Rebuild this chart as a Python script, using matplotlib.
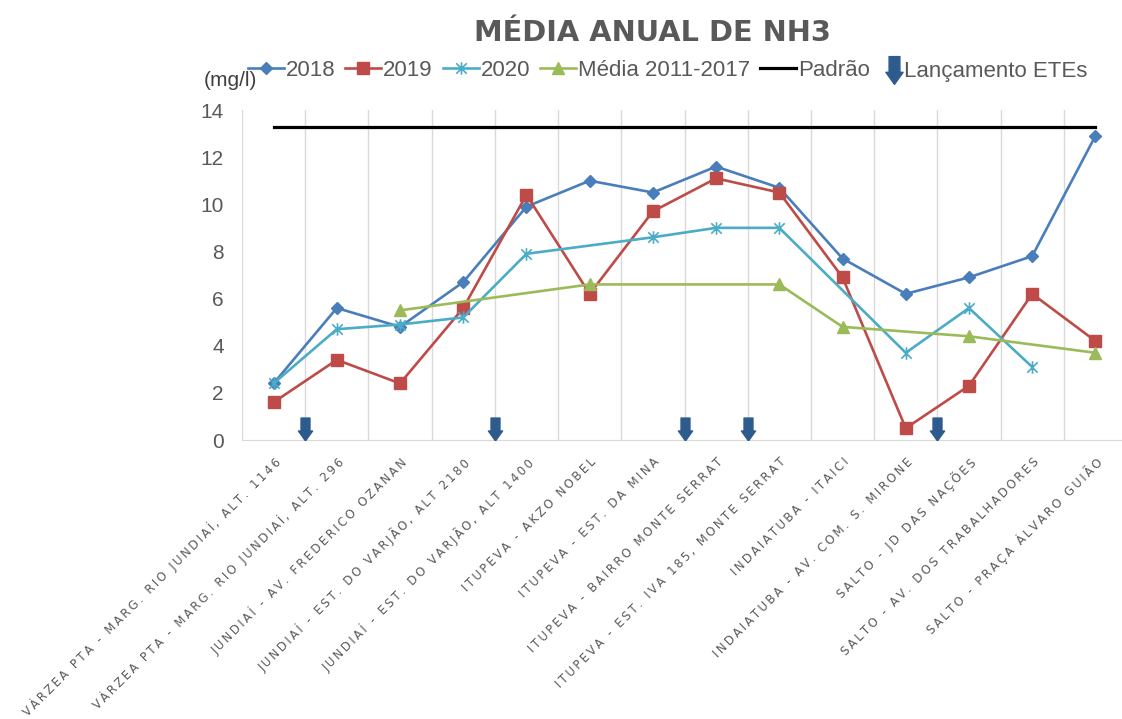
import numpy as np
import matplotlib

matplotlib.use("Agg")
import matplotlib.pyplot as plt
from matplotlib.lines import Line2D
from matplotlib.path import Path

nan = np.nan

STATIONS = [
    "VÁRZEA PTA - MARG. RIO JUNDIAÍ, ALT. 1146",
    "VÁRZEA PTA - MARG. RIO JUNDIAÍ, ALT. 296",
    "JUNDIAÍ - AV. FREDERICO OZANAN",
    "JUNDIAÍ - EST. DO VARJÃO, ALT 2180",
    "JUNDIAÍ - EST. DO VARJÃO, ALT 1400",
    "ITUPEVA - AKZO NOBEL",
    "ITUPEVA - EST. DA MINA",
    "ITUPEVA - BAIRRO MONTE SERRAT",
    "ITUPEVA - EST. IVA 185, MONTE SERRAT",
    "INDAIATUBA - ITAICI",
    "INDAIATUBA - AV. COM. S. MIRONE",
    "SALTO - JD DAS NAÇÕES",
    "SALTO - AV. DOS TRABALHADORES",
    "SALTO - PRAÇA ÁLVARO GUIÃO",
]

NH3_2018 = [2.4, 5.6, 4.8, 6.7, 9.9, 11.0, 10.5, 11.6, 10.7, 7.7, 6.2, 6.9, 7.8, 12.9]
NH3_2019 = [1.6, 3.4, 2.4, 5.6, 10.4, 6.2, 9.7, 11.1, 10.5, 6.9, 0.5, 2.3, 6.2, 4.2]
NH3_2020 = [2.4, 4.7, 4.9, 5.2, 7.9, nan, 8.6, 9.0, 9.0, nan, 3.7, 5.6, 3.1, nan]
MEDIA_2011_2017 = [nan, nan, 5.5, nan, nan, 6.6, nan, nan, 6.6, 4.8, nan, 4.4, nan, 3.7]
PADRAO = 13.3

# ETE discharge points sit between two monitoring stations
ETE_POSITIONS = [0.5, 3.5, 6.5, 7.5, 10.5]

YTICKS = [0, 2, 4, 6, 8, 10, 12, 14]

GRAY = "#595959"
ARROW_COLOR = "#2E5B8E"

# downward block arrow used for the ETE markers
ARROW = Path(
    [(-0.39, 1.0), (0.39, 1.0), (0.39, -0.13), (0.62, -0.13), (0.0, -1.0),
     (-0.62, -0.13), (-0.39, -0.13), (-0.39, 1.0)],
    [Path.MOVETO] + [Path.LINETO] * 6 + [Path.CLOSEPOLY],
)

# Excel-style star: an X crossed by a vertical bar
STAR = Path(
    [(-1, -1), (1, 1), (-1, 1), (1, -1), (0, -1.2), (0, 1.2)],
    [Path.MOVETO, Path.LINETO, Path.MOVETO, Path.LINETO, Path.MOVETO, Path.LINETO],
)

SERIES = [
    ("2018", NH3_2018, "#4A7EBB", dict(marker="D", ms=6.5)),
    ("2019", NH3_2019, "#BE4B48", dict(marker="s", ms=9)),
    ("2020", NH3_2020, "#4BACC6", dict(marker=STAR, ms=9, mfc="none", mew=1.2)),
    ("Média 2011-2017", MEDIA_2011_2017, "#9BBB59", dict(marker="^", ms=8)),
]


def spaced(text: str) -> str:
    return "\u2009".join(text)


def main() -> None:
    fig = plt.figure(figsize=(11.22, 7.19), dpi=100)
    ax = fig.add_axes([242 / 1122, 279 / 719, 885 / 1122, 330 / 719])
    n = len(STATIONS)
    x = np.arange(n)

    handles = []
    for label, values, color, style in SERIES:
        vals = np.asarray(values, dtype=float)
        ok = ~np.isnan(vals)
        (line,) = ax.plot(x[ok], vals[ok], color=color, lw=1.9, mec=color,
                          label=label, zorder=3, **style)
        if "mfc" not in style:
            line.set_markerfacecolor(color)
        handles.append(line)

    (pad_line,) = ax.plot([x[0], x[-1]], [PADRAO, PADRAO], color="black",
                          lw=2.3, label="Padrão", zorder=2)
    handles.append(pad_line)

    ax.plot(ETE_POSITIONS, [0.47] * len(ETE_POSITIONS), ls="none",
            marker=ARROW, ms=16.5, color=ARROW_COLOR, mec=ARROW_COLOR, zorder=4)

    ax.set_xlim(-0.5, n - 0.5)
    ax.set_ylim(0, 14)
    ax.set_yticks(YTICKS)
    ax.set_yticklabels([str(v) for v in YTICKS], fontsize=15,
                       family="Liberation Sans", color=GRAY)
    ax.set_xticks(x)
    ax.set_xticklabels([spaced(s) for s in STATIONS], rotation=45, ha="right",
                       va="top", rotation_mode="anchor", fontsize=8.5,
                       color=GRAY)
    ax.set_xticks(np.arange(n + 1) - 0.5, minor=True)
    ax.grid(which="minor", axis="x", color="#D9D9D9", lw=1)
    ax.tick_params(which="both", length=0)
    ax.tick_params(axis="y", pad=13)
    ax.tick_params(axis="x", pad=11)
    for side in ("top", "right", "left"):
        ax.spines[side].set_visible(False)
    ax.spines["bottom"].set_color("#D9D9D9")

    fig.text(652 / 1122, 1 - 33 / 719, "MÉDIA ANUAL DE NH3", ha="center",
             va="center", fontsize=20.8, fontweight="bold", color=GRAY)
    fig.text(204 / 1122, 1 - 80 / 719, "(mg/l)", ha="left", va="center",
             fontsize=15, family="Liberation Sans", color="#404040")

    leg_font = {"family": "Liberation Sans", "size": 16}
    leg1 = fig.legend(handles=handles, ncol=5, loc="center left",
                      bbox_to_anchor=(248 / 1122, 1 - 70 / 719), frameon=False,
                      prop=leg_font, handlelength=1.62, handletextpad=0.08,
                      columnspacing=0.45, borderpad=0, borderaxespad=0)
    for t in leg1.get_texts():
        t.set_color(GRAY)

    ete_handle = Line2D([], [], ls="none", marker=ARROW, ms=20,
                        color=ARROW_COLOR, mec=ARROW_COLOR)
    leg2 = fig.legend(handles=[ete_handle], labels=["Lançamento ETEs"],
                      loc="center left", bbox_to_anchor=(886 / 1122, 1 - 72 / 719),
                      frameon=False, prop=leg_font, handlelength=0.75,
                      handletextpad=0.05, borderpad=0, borderaxespad=0)
    for t in leg2.get_texts():
        t.set_color(GRAY)

    fig.savefig("out.png", dpi=100)
    plt.close(fig)


if __name__ == "__main__":
    main()
